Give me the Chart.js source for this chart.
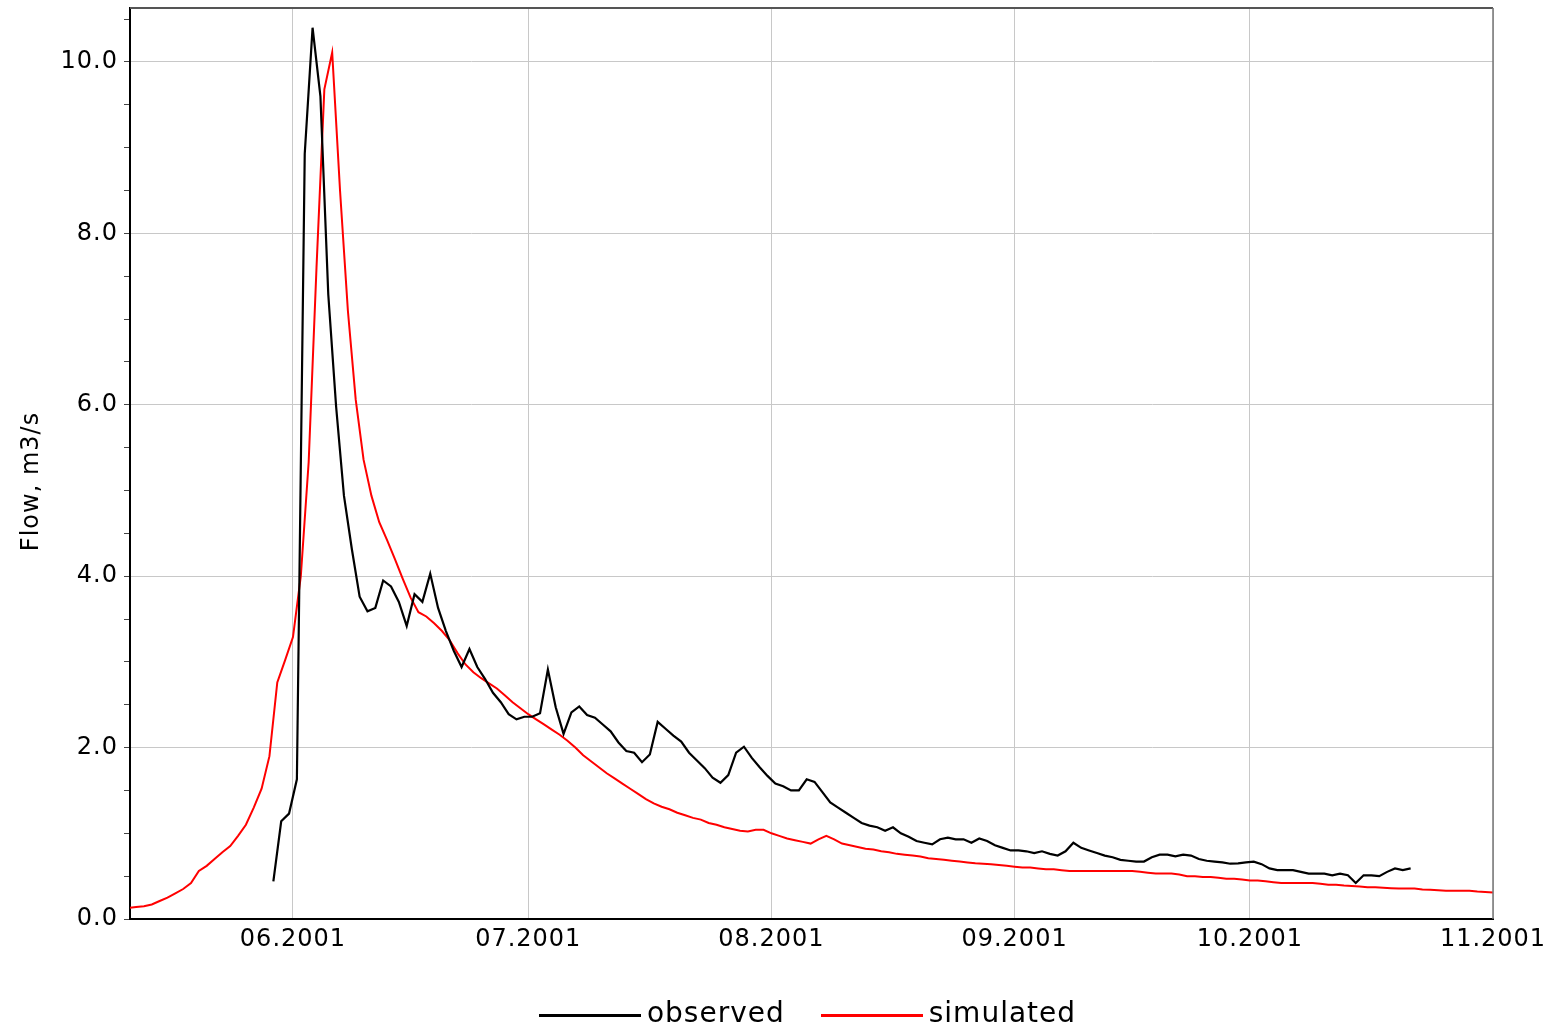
<!DOCTYPE html>
<html lang="en">
<head>
    <meta charset="UTF-8">
    <title>Flow observed vs simulated</title>
    <script src="https://cdn.jsdelivr.net/npm/chart.js"></script>
    <style>
        body {
            margin: 0;
            padding: 0;
            background: #fff;
        }
        #wrap {
            width: 1548px;
            height: 1028px;
        }
    </style>
</head>
<body>
    <div id="wrap"><canvas id="flowChart"></canvas></div>
    <script>
        // daily mean flow, m3/s (observed plotted at mid-day)
        const observedStart = '2001-05-29';
        const observed = [
            0.44, 1.14, 1.23,
            // June
            1.63, 8.93, 10.40, 9.60, 7.29, 5.98, 4.94, 4.32, 3.76, 3.59,
            3.63, 3.95, 3.88, 3.70, 3.42, 3.79, 3.70, 4.03, 3.63, 3.36,
            3.13, 2.94, 3.15, 2.94, 2.80, 2.64, 2.53, 2.39, 2.33, 2.36,
            // July
            2.36, 2.40, 2.91, 2.47, 2.16, 2.41, 2.48, 2.38, 2.35, 2.27,
            2.19, 2.06, 1.96, 1.94, 1.83, 1.92, 2.30, 2.22, 2.14, 2.07,
            1.94, 1.85, 1.76, 1.65, 1.59, 1.68, 1.94, 2.01, 1.88, 1.77, 1.67,
            // August
            1.58, 1.55, 1.50, 1.50, 1.63, 1.60, 1.48, 1.36, 1.30, 1.24,
            1.18, 1.12, 1.09, 1.07, 1.03, 1.07, 1.00, 0.96, 0.91, 0.89,
            0.87, 0.93, 0.95, 0.93, 0.93, 0.89, 0.94, 0.91, 0.86, 0.83, 0.80,
            // September
            0.80, 0.79, 0.77, 0.79, 0.76, 0.74, 0.79, 0.89, 0.83, 0.80,
            0.77, 0.74, 0.72, 0.69, 0.68, 0.67, 0.67, 0.72, 0.75, 0.75,
            0.73, 0.75, 0.74, 0.70, 0.68, 0.67, 0.66, 0.645, 0.65, 0.66,
            // October
            0.67, 0.64, 0.59, 0.57, 0.57, 0.57, 0.55, 0.53, 0.53, 0.53,
            0.51, 0.53, 0.51, 0.42, 0.51, 0.51, 0.50, 0.55, 0.59, 0.57, 0.59
        ];

        const simulatedStart = '2001-05-11';
        const simulated = [
            // May 11-31
            0.13, 0.14, 0.15, 0.17, 0.21, 0.25, 0.30, 0.35, 0.42, 0.56,
            0.62, 0.70, 0.78, 0.85, 0.97, 1.10, 1.30, 1.52, 1.90, 2.76, 3.02,
            // June
            3.29, 4.00, 5.33, 7.60, 9.68, 10.11, 8.50, 7.10, 6.06, 5.36,
            4.94, 4.63, 4.42, 4.20, 3.97, 3.75, 3.58, 3.53, 3.45, 3.36,
            3.25, 3.10, 2.97, 2.88, 2.81, 2.75, 2.69, 2.61, 2.53, 2.46,
            // July
            2.39, 2.33, 2.27, 2.21, 2.15, 2.08, 2.00, 1.91, 1.84, 1.77,
            1.70, 1.64, 1.58, 1.52, 1.46, 1.40, 1.35, 1.31, 1.28, 1.24,
            1.21, 1.18, 1.16, 1.12, 1.10, 1.07, 1.05, 1.03, 1.02, 1.04, 1.04,
            // August
            1.00, 0.97, 0.94, 0.92, 0.90, 0.88, 0.93, 0.97, 0.93, 0.88,
            0.86, 0.84, 0.82, 0.81, 0.79, 0.78, 0.76, 0.75, 0.74, 0.73,
            0.71, 0.70, 0.69, 0.68, 0.67, 0.66, 0.65, 0.645, 0.64, 0.63, 0.62,
            // September
            0.61, 0.60, 0.60, 0.59, 0.58, 0.58, 0.57, 0.56, 0.56, 0.56,
            0.56, 0.56, 0.56, 0.56, 0.56, 0.56, 0.55, 0.54, 0.53, 0.53,
            0.53, 0.52, 0.50, 0.50, 0.49, 0.49, 0.48, 0.47, 0.47, 0.46,
            // October
            0.45, 0.45, 0.44, 0.43, 0.42, 0.42, 0.42, 0.42, 0.42, 0.41,
            0.40, 0.40, 0.39, 0.385, 0.38, 0.37, 0.37, 0.365, 0.36, 0.355,
            0.355, 0.355, 0.345, 0.34, 0.335, 0.33, 0.33, 0.33, 0.33, 0.32, 0.315,
            // November 1
            0.31
        ];

        const monthTicks = ['2001-06-01', '2001-07-01', '2001-08-01', '2001-09-01', '2001-10-01', '2001-11-01'];
        const monthLabels = ['06.2001', '07.2001', '08.2001', '09.2001', '10.2001', '11.2001'];
        const axisStart = '2001-05-11T05:20:00Z';
        const axisEnd = '2001-11-01';
        const yTitle = 'Flow, m3/s';

        const DAY = 86400000;
        const origin = Date.parse('2001-06-01');
        const toDay = s => (Date.parse(s) - origin) / DAY;

        const observedPts = observed.map((v, i) => ({ x: toDay(observedStart) + i + 0.5, y: v }));
        const simulatedPts = simulated.map((v, i) => ({ x: toDay(simulatedStart) + i, y: v }));
        const tickDays = monthTicks.map(toDay);

        const FONT = "'DejaVu Sans', sans-serif";

        // legend swatch: a plain line, a bit wider than the legend box so the text sits close
        function swatch(color) {
            const c = document.createElement('canvas');
            c.width = 102;
            c.height = 3;
            const g = c.getContext('2d');
            g.fillStyle = color;
            g.fillRect(0, 0, c.width, c.height);
            return c;
        }

        // wider tracking for all canvas text
        const spacing = {
            id: 'spacing',
            beforeLayout(chart) { chart.ctx.letterSpacing = '1px'; },
            beforeDraw(chart) { chart.ctx.letterSpacing = '1px'; }
        };

        // plot frame (top/right edges) and the rotated y axis title
        const frame = {
            id: 'frame',
            afterDatasetsDraw(chart) {
                const { ctx, chartArea: a } = chart;
                ctx.save();
                ctx.strokeStyle = '#555';
                ctx.lineWidth = 2;
                ctx.beginPath();
                ctx.moveTo(a.left, a.top);
                ctx.lineTo(a.right, a.top);
                ctx.stroke();
                ctx.lineWidth = 1.5;
                ctx.strokeStyle = '#777';
                ctx.beginPath();
                ctx.moveTo(a.right, a.top);
                ctx.lineTo(a.right, a.bottom);
                ctx.stroke();

                ctx.translate(32, a.top + a.height / 2 + 18);
                ctx.rotate(-Math.PI / 2);
                ctx.fillStyle = '#000';
                ctx.font = '24px ' + FONT;
                ctx.textAlign = 'center';
                ctx.textBaseline = 'middle';
                ctx.fillText(yTitle, 0, 0);
                ctx.restore();
            }
        };

        const ctx = document.getElementById('flowChart').getContext('2d');
        const flowChart = new Chart(ctx, {
            type: 'line',
            data: {
                datasets: [
                    {
                        label: 'observed',
                        data: observedPts,
                        borderColor: '#000',
                        borderWidth: 2.2,
                        pointRadius: 0,
                        pointStyle: swatch('#000'),
                        fill: false,
                    },
                    {
                        label: 'simulated',
                        data: simulatedPts,
                        borderColor: '#ff0000',
                        borderWidth: 2,
                        pointRadius: 0,
                        pointStyle: swatch('#ff0000'),
                        fill: false,
                    }
                ]
            },
            options: {
                responsive: true,
                maintainAspectRatio: false,
                animation: false,
                layout: { padding: { left: 0, right: 55, top: 8, bottom: -11 } },
                plugins: {
                    tooltip: { enabled: false },
                    legend: {
                        position: 'bottom',
                        fullSize: false,
                        labels: {
                            usePointStyle: true,
                            pointStyleWidth: 86,
                            padding: 44,
                            color: '#000',
                            font: { family: FONT, size: 28 }
                        }
                    }
                },
                scales: {
                    x: {
                        type: 'linear',
                        min: toDay(axisStart),
                        max: toDay(axisEnd),
                        afterBuildTicks: scale => { scale.ticks = tickDays.map(v => ({ value: v })); },
                        afterFit: scale => {
                            scale.height = 38;
                            scale.paddingLeft = 0;
                            scale.paddingRight = 0;
                        },
                        ticks: {
                            autoSkip: false,
                            maxRotation: 0,
                            padding: 6,
                            color: '#000',
                            font: { family: FONT, size: 24 },
                            callback: v => monthLabels[tickDays.indexOf(v)] ?? ''
                        },
                        grid: { color: '#c8c8c8', lineWidth: 1, drawTicks: false },
                        border: { color: '#000', width: 2 }
                    },
                    y: {
                        min: 0,
                        max: 10.63,
                        afterFit: scale => {
                            scale.width = 130;
                            scale.paddingTop = 0;
                            scale.paddingBottom = 0;
                        },
                        ticks: {
                            stepSize: 0.5,
                            includeBounds: false,
                            padding: 6,
                            color: '#000',
                            font: { family: FONT, size: 24 },
                            callback: v => Math.abs(v % 2) < 1e-9 ? v.toFixed(1) : ''
                        },
                        grid: {
                            color: c => (c.tick && Math.abs(c.tick.value % 2) < 1e-9) ? '#c8c8c8' : 'rgba(0,0,0,0)',
                            tickColor: '#444',
                            tickLength: 6
                        },
                        border: { color: '#000', width: 2 }
                    }
                }
            },
            plugins: [spacing, frame]
        });
    </script>
</body>
</html>
